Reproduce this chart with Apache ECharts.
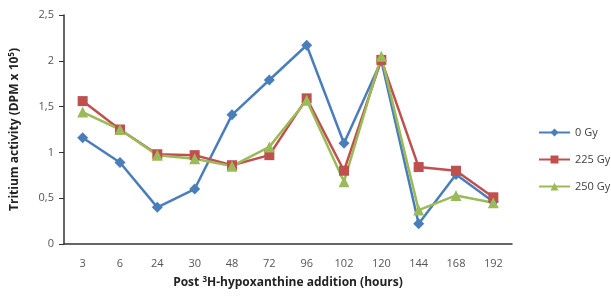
<!DOCTYPE html>
<html><head><meta charset="utf-8">
<script src="https://cdn.jsdelivr.net/npm/echarts@6/dist/echarts.min.js"></script>
<style>html,body{margin:0;padding:0;background:#fff}#c{width:611px;height:300px}</style>
</head><body><div id="c"></div>
<script>
const categories = ['3','6','24','30','48','72','96','102','120','144','168','192'];
const gy0 = [1.16,0.89,0.40,0.60,1.41,1.79,2.17,1.10,2.00,0.22,0.76,0.46];
const gy225 = [1.56,1.25,0.98,0.97,0.86,0.97,1.59,0.80,2.01,0.84,0.80,0.51];
const gy250 = [1.44,1.25,0.97,0.93,0.85,1.06,1.57,0.68,2.05,0.37,0.53,0.45];
const seriesNames = ['0 Gy','225 Gy','250 Gy'];

const chart = echarts.init(document.getElementById('c'));
const font = 'Open Sans, Liberation Sans, sans-serif';
function mk(name, data, color, symbol, size){
  return {name, type:'line', data, symbol, symbolSize:size, color,
    lineStyle:{width:2.5,color}, itemStyle:{color}, showSymbol:true, animation:false};
}
chart.setOption({
  animation:false,
  grid:{left:61,right:99,top:15,bottom:56},
  legend:{orient:'vertical',left:533,top:122,itemWidth:31,itemHeight:10,itemGap:16,
    textStyle:{fontFamily:font,fontSize:11,color:'#404040'},
    data:seriesNames},
  xAxis:{type:'category',data:categories,boundaryGap:true,
    axisLine:{lineStyle:{color:'#333',width:1.5}},axisTick:{show:false},
    axisLabel:{fontFamily:font,fontSize:11,color:'#555',margin:14},
    name:'Post {sup|3}H-hypoxanthine addition (hours)',nameLocation:'middle',nameGap:32,
    nameTextStyle:{fontFamily:font,fontSize:12,fontWeight:'bold',color:'#222',
      rich:{sup:{fontSize:8,fontWeight:'bold',verticalAlign:'top',padding:[0,0,6,0],color:'#222',fontFamily:font}}}},
  yAxis:{type:'value',min:0,max:2.5,interval:0.5,
    splitLine:{show:false},
    axisLine:{show:true,lineStyle:{color:'#333',width:1.5}},
    axisTick:{show:true,length:5,lineStyle:{color:'#333'}},
    axisLabel:{fontFamily:font,fontSize:11,color:'#555',margin:10,
      formatter:v=>String(v).replace('.',',')},
    name:'Tritium activity (DPM x 10{sup|5})',nameLocation:'middle',nameGap:42,nameRotate:90,
    nameTextStyle:{fontFamily:font,fontSize:12,fontWeight:'bold',color:'#222',
      rich:{sup:{fontSize:8,fontWeight:'bold',verticalAlign:'top',padding:[0,0,6,0],color:'#222',fontFamily:font}}}},
  series:[
    mk(seriesNames[0],gy0,'#4a7ebb','diamond',11),
    mk(seriesNames[1],gy225,'#c0504d','rect',10),
    mk(seriesNames[2],gy250,'#9bbb59','triangle',11)
  ]
});
</script></body></html>
